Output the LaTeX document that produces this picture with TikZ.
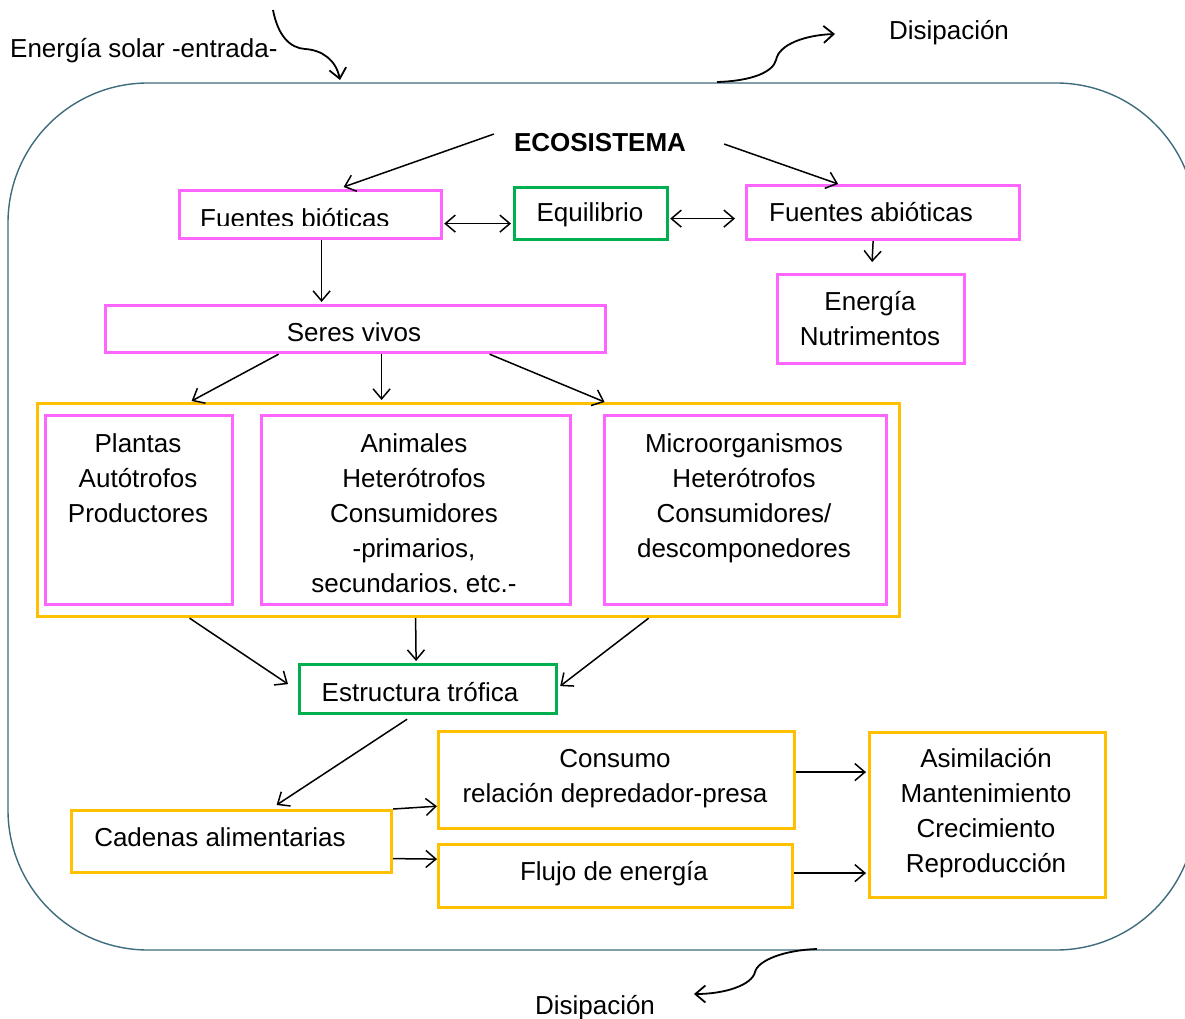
\documentclass[tikz,border=0pt]{standalone}
\usepackage{fontspec}
\setmainfont{Liberation Sans}
\usetikzlibrary{arrows.meta,calc}
\definecolor{framecol}{RGB}{62,108,124}
\definecolor{boxpink}{RGB}{255,102,255}
\definecolor{boxgreen}{RGB}{0,176,80}
\definecolor{boxgold}{RGB}{255,192,0}
\newcommand\stacklines[1]{\begin{tabular}[t]{@{}c@{}}#1\end{tabular}}
\begin{document}
\begin{tikzpicture}[x=1pt,y=-1pt,
  txt/.style={font=\fontsize{26}{35}\selectfont, inner sep=0pt, anchor=base},
  box/.style={draw, line width=3.2pt, inner sep=0pt, anchor=north west},
  pinkbox/.style={box, draw=boxpink},
  greenbox/.style={box, draw=boxgreen},
  goldbox/.style={box, draw=boxgold},
  tip/.tip={Straight Barb[length=10pt,width=17pt]},
  arr/.style={line width=1.5pt, -tip},
  biarr/.style={line width=1.5pt, tip-tip},
  curvy/.style={line width=1.8pt, -tip},
]
\useasboundingbox (0,0) rectangle (1185,1019);

% ecosystem frame
\draw[framecol, line width=1.4pt, rounded corners=140pt] (8,83) rectangle (1196,950);

% energy in / out
\node[txt, anchor=base west] (solar) at (10,58) {Energía solar -entrada-};
\node[txt] (disA) at (949,40) {Disipación};
\node[txt] (disB) at (595,1014) {Disipación};
\coordinate (sunA) at (273,10);
\coordinate (sunB) at (340,80);
\coordinate (outA) at (717,82);
\coordinate (outB) at (835,34);
\coordinate (outC) at (817,949);
\coordinate (outD) at (694,994);
\draw[curvy] (sunA) .. controls (278,36) and (290,48) .. (305,49)
             .. controls (322,50) and (336,60) .. (sunB);
\draw[curvy] (outA) .. controls (752,81) and (773,72) .. (776,60)
             .. controls (779,44) and (806,35) .. (outB);
\draw[curvy] (outC) .. controls (785,950) and (758,960) .. (755,972)
             .. controls (752,985) and (725,994) .. (outD);

% title
\node[txt, font=\fontsize{26}{35}\selectfont\bfseries] (eco) at (600,152) {ECOSISTEMA};

% boxes
\node[pinkbox, minimum width=262pt, minimum height=48pt] (fb) at (178,189) {};
\node[greenbox, minimum width=153pt, minimum height=52pt] (eq) at (513,186) {};
\node[pinkbox, minimum width=273pt, minimum height=54pt] (fa) at (745,184) {};
\node[pinkbox, minimum width=187pt, minimum height=89pt] (en) at (776,273) {};
\node[pinkbox, minimum width=500pt, minimum height=47pt] (sv) at (104,304) {};
\node[goldbox, minimum width=862pt, minimum height=213pt] (grp) at (36,402) {};
\node[pinkbox, minimum width=187pt, minimum height=189pt] (pl) at (44,414) {};
\node[pinkbox, minimum width=309pt, minimum height=189pt] (an) at (260,414) {};
\node[pinkbox, minimum width=282pt, minimum height=189pt] (mi) at (603,414) {};
\node[greenbox, minimum width=257pt, minimum height=49pt] (et) at (298,663) {};
\node[goldbox, minimum width=356pt, minimum height=97pt] (co) at (437,730) {};
\node[goldbox, minimum width=320pt, minimum height=62pt] (ca) at (70,809) {};
\node[goldbox, minimum width=354pt, minimum height=63pt] (fl) at (437,843) {};
\node[goldbox, minimum width=236pt, minimum height=165pt] (as) at (868,731) {};

% box texts
\begin{scope}
  \clip (178,189) rectangle (440,225.5);
  \node[txt, anchor=base west] (fbT) at (200,227.5) {Fuentes bióticas};
\end{scope}
\node[txt] (eqT) at (590,222) {Equilibrio};
\node[txt] (faT) at (871,221) {Fuentes abióticas};
\node[txt] (enT) at (870,310) {\stacklines{Energía\\Nutrimentos}};
\node[txt] (svT) at (354,341) {Seres vivos};
\node[txt] (plT) at (138,452) {\stacklines{Plantas\\Autótrofos\\Productores}};
\begin{scope}
  \clip (260,414) rectangle (569,592);
  \node[txt] (anT) at (414,452) {\stacklines{Animales\\Heterótrofos\\Consumidores\\-primarios,\\secundarios, etc.-}};
\end{scope}
\node[txt] (miT) at (744,452) {\stacklines{Microorganismos\\Heterótrofos\\Consumidores/\\descomponedores}};
\node[txt] (etT) at (420,701) {Estructura trófica};
\node[txt] (coT) at (615,767) {\stacklines{Consumo\\relación depredador-presa}};
\node[txt] (caT) at (220,846) {Cadenas alimentarias};
\node[txt] (flT) at (614,880) {Flujo de energía};
\node[txt] (asT) at (986,767) {\stacklines{Asimilación\\Mantenimiento\\Crecimiento\\Reproducción}};

% connectors
\draw[arr] ($(eco.west)+(-20,-9)$) -- ($(fb.north)+(33,-2)$);
\draw[arr] ($(eco.east)+(38,1)$) -- ($(fa.north)+(-45,0)$);
\draw[biarr] ($(fb.east)+(1,9)$) -- ($(eq.west)+(-2,10)$);
\draw[biarr] ($(eq.east)+(1,5)$) -- ($(fa.west)+(-10,6)$);
\draw[arr] ($(fa.south)+(-10,0)$) -- ($(en.north)+(1,-11)$);
\draw[arr] ($(fb.south)+(11,0)$) -- ($(sv.north)+(-34,-2)$);
\draw[arr] ($(sv.south)+(-77,0)$) -- ($(grp.north)+(-277,-1)$);
\draw[arr] ($(sv.south)+(26,0)$) -- ($(grp.north)+(-87,-2)$);
\draw[arr] ($(sv.south)+(134,0)$) -- ($(grp.north)+(136,0)$);
\draw[arr] ($(grp.south)+(-279,0)$) -- ($(et.west)+(-10,-5)$);
\draw[arr] ($(grp.south)+(-53,0)$) -- ($(et.north)+(-12,-2)$);
\draw[arr] ($(grp.south)+(180,0)$) -- ($(et.east)+(2,-3)$);
\draw[arr] ($(et.south)+(-21,4)$) -- ($(ca.north)+(45,-4)$);
\draw[arr] (ca.north east) -- ($(co.south west)+(0,-24)$);
\draw[arr] ($(ca.east)+(0,17)$) -- ($(fl.west)+(0,-17)$);
\draw[arr] ($(co.east)+(0,-8)$) -- ($(as.west)+(-2,-43)$);
\draw[arr] ($(fl.east)+(0,-3)$) -- ($(as.west)+(-2,58)$);
\end{tikzpicture}
\end{document}
